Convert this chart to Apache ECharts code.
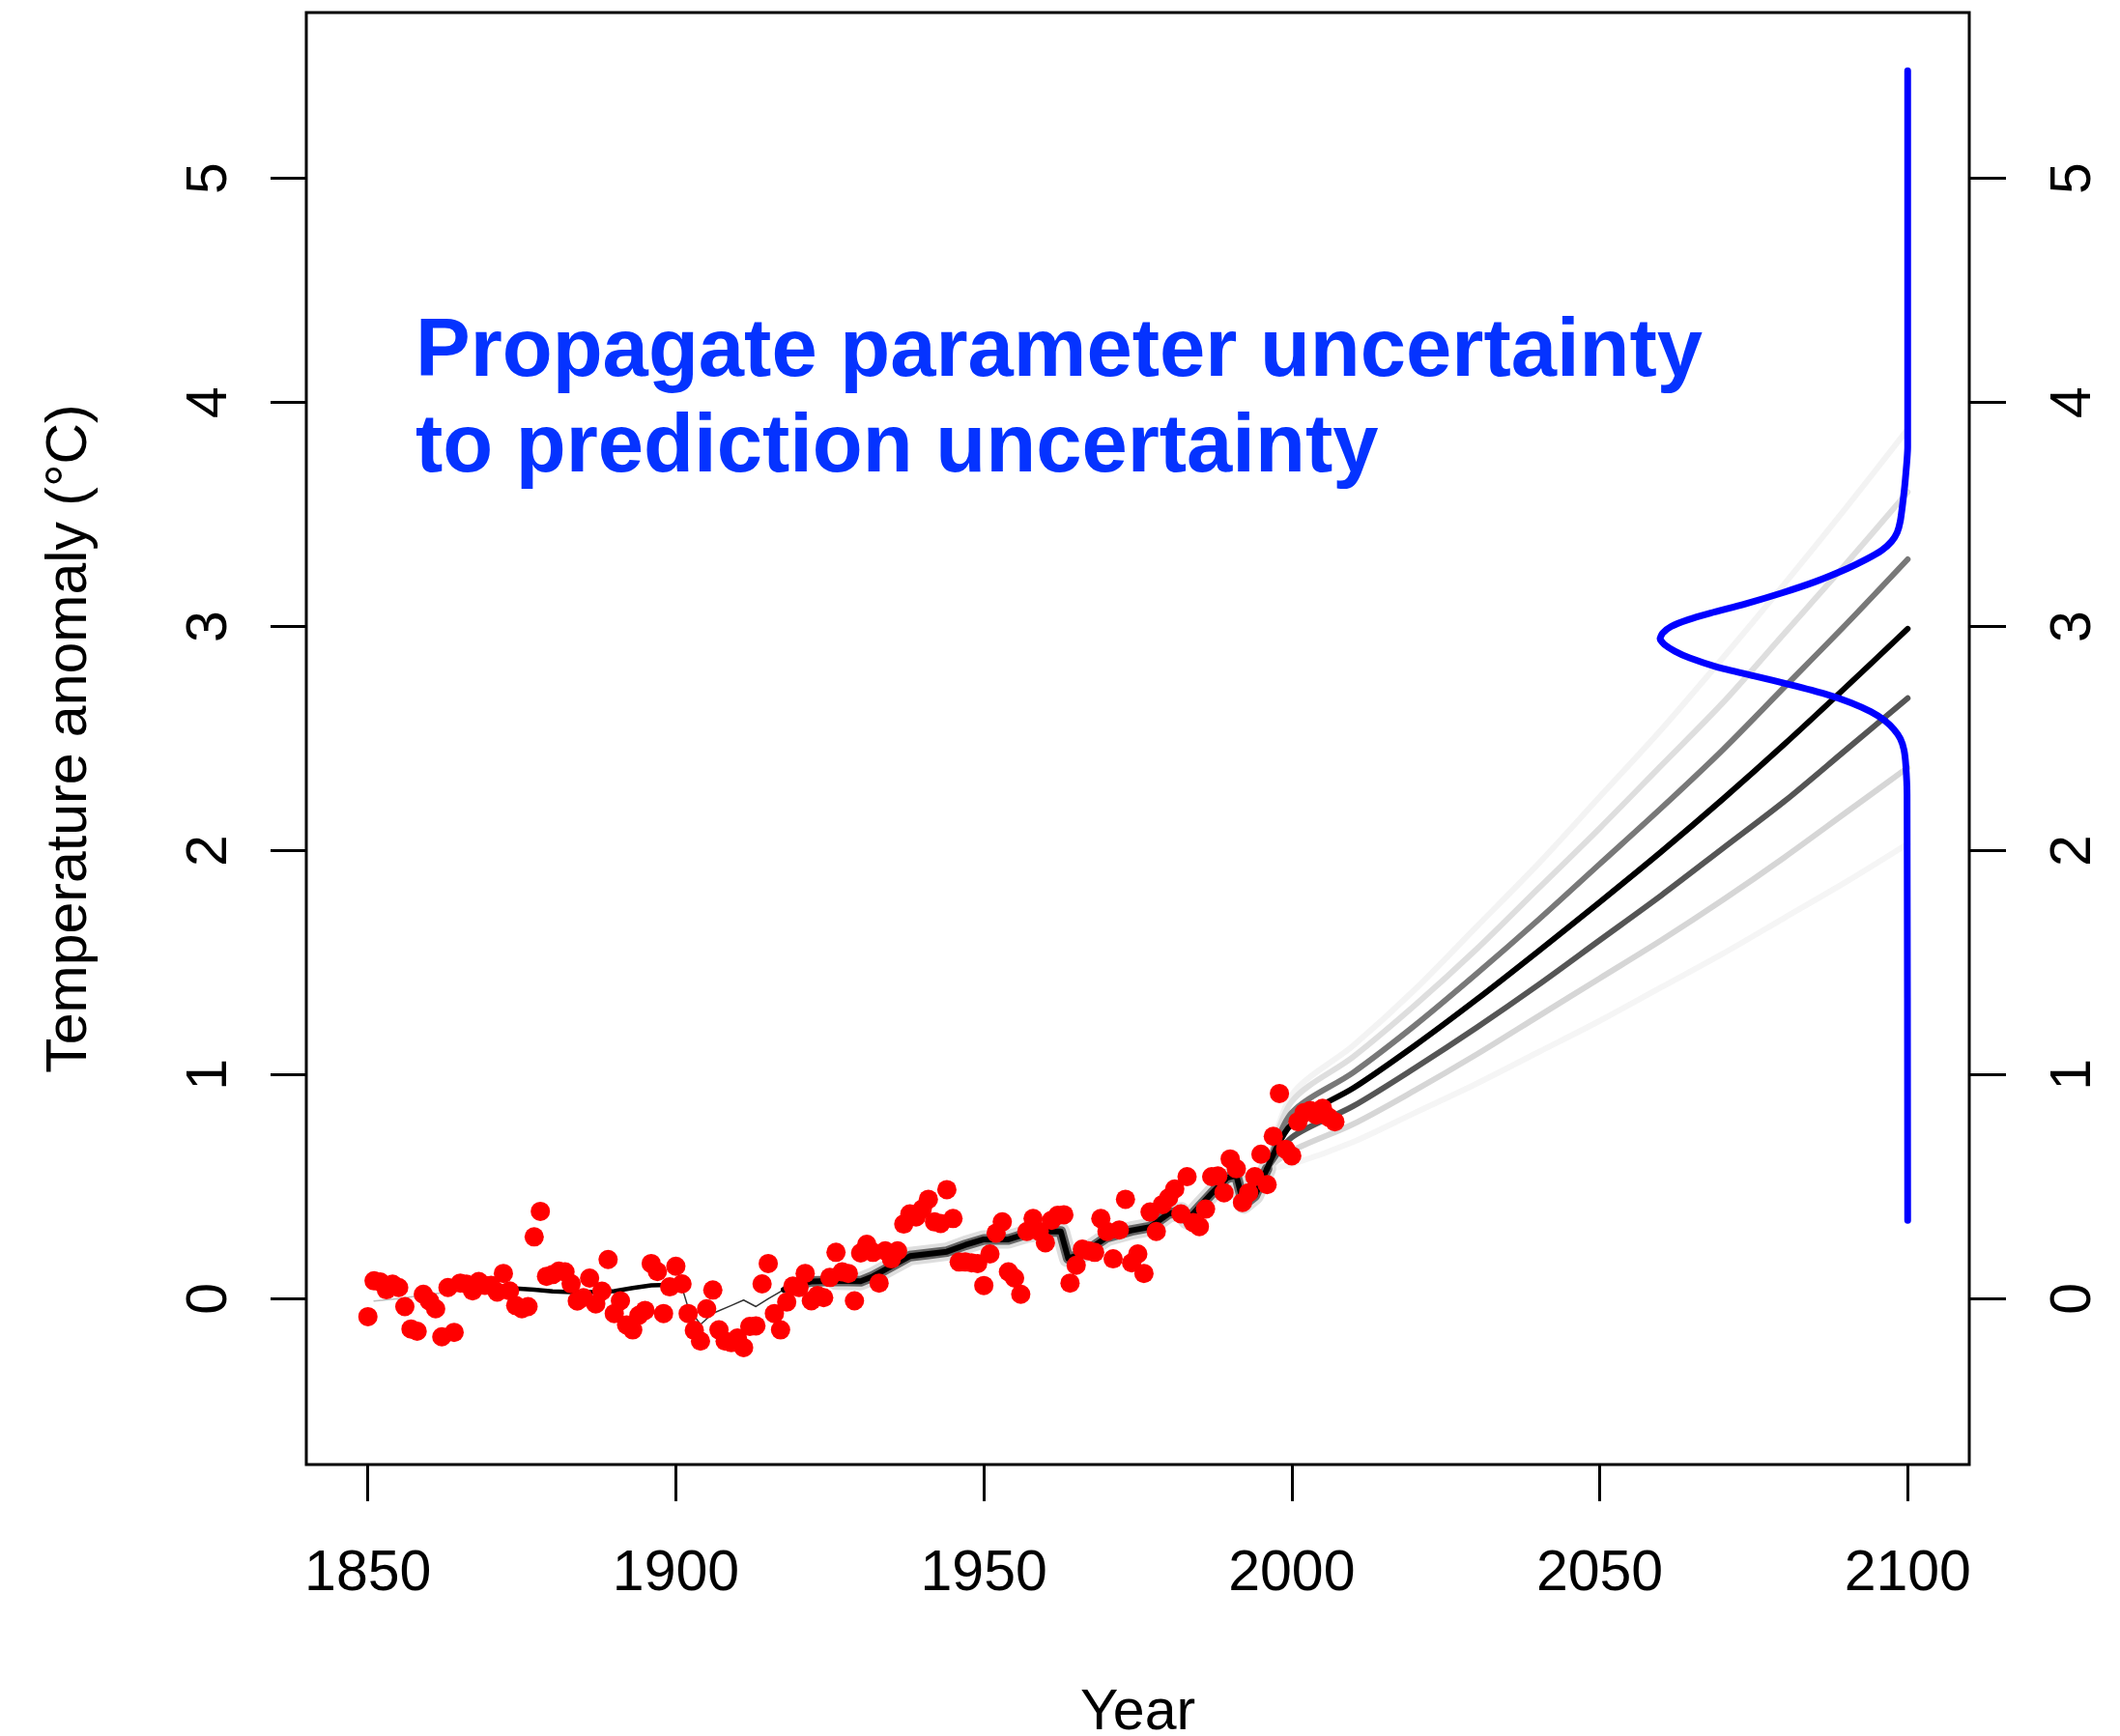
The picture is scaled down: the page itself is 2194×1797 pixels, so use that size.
<!DOCTYPE html>
<html>
<head>
<meta charset="utf-8">
<script src="https://cdn.jsdelivr.net/npm/echarts@6/dist/echarts.min.js"></script>
<style>
  html, body { margin: 0; padding: 0; background: #ffffff; }
  #chart { width: 2194px; height: 1797px; }
</style>
</head>
<body>
<div id="chart"></div>
<script>
// Observed annual temperature anomalies (°C), one value per year from 1850
const obsFirstYear = 1850;
const obsTemp = [
  -0.08, 0.08, 0.075, 0.04, 0.065, 0.05, -0.035, -0.135, -0.145, 0.02,
  -0.01, -0.045, -0.17, 0.05, -0.15, 0.07, 0.065, 0.035, 0.077, 0.06,
  0.06, 0.03, 0.113, 0.035, -0.03, -0.045, -0.035, 0.276, 0.39, 0.10,
  0.108, 0.123, 0.12, 0.067, -0.01, 0.005, 0.092, -0.023, 0.034, 0.175,
  -0.066, -0.009, -0.117, -0.139, -0.074, -0.052, 0.157, 0.121, -0.066, 0.053,
  0.145, 0.066, -0.066, -0.141, -0.189, -0.045, 0.039, -0.139, -0.189, -0.196,
  -0.175, -0.218, -0.124, -0.121, 0.066, 0.157, -0.066, -0.139, -0.015, 0.056,
  0.05, 0.113, -0.009, 0.015, 0.005, 0.095, 0.207, 0.12, 0.113, -0.009,
  0.204, 0.243, 0.207, 0.07, 0.214, 0.178, 0.214, 0.333, 0.379, 0.365,
  0.40, 0.444, 0.343, 0.336, 0.487, 0.358, 0.164, 0.164, 0.16, 0.157,
  0.059, 0.20, 0.293, 0.343, 0.12, 0.092, 0.02, 0.30, 0.358, 0.30,
  0.25, 0.35, 0.372, 0.375, 0.07, 0.149, 0.221, 0.214, 0.207, 0.358,
  0.30, 0.178, 0.307, 0.444, 0.16, 0.20, 0.113, 0.387, 0.30, 0.42,
  0.45, 0.49, 0.379, 0.545, 0.34, 0.322, 0.40, 0.545, 0.548, 0.473,
  0.624, 0.58, 0.43, 0.473, 0.545, 0.645, 0.509, 0.725, 0.916, 0.667,
  0.638, 0.79, 0.83, 0.84, 0.82, 0.85, 0.81, 0.79
];

// Best-fit model run over the historical period
const histYears = [
  1851, 1855, 1860, 1865, 1870, 1874, 1877, 1880, 1883, 1886, 1890, 1893, 1896, 1899,
  1901, 1902, 1904, 1906, 1909, 1911, 1913, 1915, 1917.5,
  1920, 1922, 1926, 1930, 1932, 1935, 1938, 1941, 1944, 1947, 1950, 1954, 1957, 1960,
  1962.5, 1963.7, 1966, 1970, 1974, 1977, 1980, 1982, 1983, 1985, 1987, 1989.5, 1991,
  1992.2, 1994, 1996
];
const histTemp = [
  -0.01, 0.0, 0.02, 0.035, 0.04, 0.046, 0.04, 0.033, 0.03, 0.03, 0.034, 0.048, 0.06, 0.062,
  0.05, -0.04, -0.115, -0.065, -0.03, -0.006, -0.035, 0.0, 0.04,
  0.065, 0.077, 0.08, 0.078, 0.10, 0.145, 0.19, 0.20, 0.21, 0.24, 0.265, 0.265, 0.29, 0.30,
  0.30, 0.18, 0.20, 0.275, 0.305, 0.32, 0.38, 0.39, 0.35, 0.41, 0.47, 0.54, 0.55,
  0.42, 0.46, 0.58
];

// Projections to 2100 for a spread of parameter values
const projYears = [1996, 2000, 2010, 2020, 2030, 2040, 2050, 2060, 2070, 2080, 2090, 2100];
const projHigh3 = [0.58, 0.91, 1.13, 1.38, 1.66, 1.94, 2.24, 2.54, 2.86, 3.19, 3.53, 3.88];
const projHigh2 = [0.58, 0.88, 1.08, 1.31, 1.56, 1.83, 2.10, 2.38, 2.66, 2.97, 3.28, 3.60];
const projHigh1 = [0.58, 0.83, 1.01, 1.22, 1.45, 1.69, 1.94, 2.19, 2.45, 2.73, 3.01, 3.30];
const projBest  = [0.58, 0.78, 0.94, 1.13, 1.335, 1.55, 1.77, 1.995, 2.23, 2.475, 2.73, 2.99];
const projLow1  = [0.58, 0.72, 0.86, 1.03, 1.21, 1.40, 1.60, 1.80, 2.01, 2.22, 2.45, 2.68];
const projLow2  = [0.58, 0.66, 0.78, 0.93, 1.09, 1.26, 1.43, 1.60, 1.78, 1.97, 2.17, 2.37];
const projLow3  = [0.58, 0.60, 0.70, 0.83, 0.96, 1.10, 1.24, 1.39, 1.54, 1.70, 1.86, 2.03];

// Distribution of 2100 temperature, drawn sideways against the 2100 line
const pdfTemp = [
  5.48, 3.80, 3.65, 3.55, 3.47, 3.42, 3.38, 3.34, 3.30, 3.26, 3.20, 3.15, 3.10, 3.06,
  3.03, 3.00, 2.97, 2.945, 2.92, 2.89, 2.86, 2.82, 2.78, 2.74, 2.70, 2.66, 2.62, 2.58,
  2.54, 2.50, 2.45, 2.38, 2.25, 0.35
];
const pdfYear = [
  2100, 2100, 2099.6, 2099.2, 2098.8, 2098.3, 2097.4, 2095.8, 2093.3, 2090.3, 2085.0, 2079.6, 2073.5, 2068.0,
  2064.3, 2061.6, 2060.2, 2059.8, 2060.5, 2062.2, 2064.6, 2069.0, 2075.0, 2081.0, 2086.5, 2090.8, 2094.0, 2096.3,
  2097.8, 2098.8, 2099.4, 2099.7, 2099.9, 2100
];

const xTicks = [1850, 1900, 1950, 2000, 2050, 2100];
const yTicks = [0, 1, 2, 3, 4, 5];

const FONT = '"Liberation Sans", Arial, Helvetica, sans-serif';

const obsPoints = obsTemp.map((t, i) => [obsFirstYear + i, t]);
const histPoints = histYears.map((y, i) => [y, histTemp[i]]);
const pairUp = (vals) => projYears.map((y, i) => [y, vals[i]]);
const pdfPoints = pdfTemp.map((t, i) => [pdfYear[i], t]);
const histRange = (a, b) => histPoints.filter(p => p[0] >= a && p[0] <= b);

function lineSeries(data, color, width, z, smooth) {
  return {
    type: 'line', data: data, showSymbol: false, symbol: 'none', z: z || 2,
    smooth: smooth || false,
    lineStyle: { color: color, width: width, cap: 'round', join: 'round' },
    emphasis: { disabled: true }, silent: true
  };
}

const series = [
  // projections, faint ones underneath
  lineSeries(pairUp(projHigh3), '#f3f3f3', 6, 2, 0.3),
  lineSeries(pairUp(projLow3), '#f5f5f5', 6, 2, 0.3),
  lineSeries(pairUp(projHigh2), '#dedede', 6, 2, 0.3),
  lineSeries(pairUp(projLow2), '#d6d6d6', 6, 2, 0.3),
  // historical model run with its spread
  lineSeries(histRange(1925, 1996), '#dedede', 19),
  lineSeries(histRange(1920, 1996), '#666666', 11),
  lineSeries(pairUp(projHigh1), '#787878', 6, 2, 0.3),
  lineSeries(pairUp(projLow1), '#555555', 6, 2, 0.3),
  lineSeries(pairUp(projBest), '#000000', 6, 2, 0.3),
  lineSeries(histRange(1851, 1866), '#bdbdbd', 1.5),
  lineSeries(histRange(1865, 1874), '#333333', 2),
  lineSeries(histRange(1874, 1901), '#000000', 4.5),
  lineSeries(histRange(1901, 1917.5), '#333333', 1.5),
  lineSeries(histRange(1917.5, 1996), '#000000', 6),
  {
    type: 'scatter', data: obsPoints, symbol: 'circle', symbolSize: 20, z: 5,
    itemStyle: { color: '#ff0000', opacity: 1, borderWidth: 0 },
    emphasis: { disabled: true }, silent: true
  },
  lineSeries(pdfPoints, '#0000ff', 7, 6, 0.2)
];

const yearLabel = (v) => String(Math.round(v));

const chart = echarts.init(document.getElementById('chart'), null, { renderer: 'canvas' });
chart.setOption({
  animation: false,
  backgroundColor: '#ffffff',
  grid: {
    left: 317, top: 13, right: 156, bottom: 281,
    containLabel: false, outerBoundsMode: 'none',
    show: true, borderColor: '#000000', borderWidth: 3, backgroundColor: 'transparent'
  },
  xAxis: {
    type: 'value', min: 1840, max: 2110,
    name: 'Year', nameLocation: 'middle', nameGap: 228,
    nameTextStyle: { fontSize: 59, color: '#000', fontFamily: FONT },
    axisLine: { show: false, onZero: false },
    axisTick: { show: true, inside: false, length: 38, customValues: xTicks,
      lineStyle: { color: '#000', width: 3 } },
    axisLabel: { show: true, customValues: xTicks, margin: 84, fontSize: 59,
      color: '#000', fontFamily: FONT, formatter: yearLabel },
    splitLine: { show: false }
  },
  yAxis: [
    {
      type: 'value', min: -0.74, max: 5.74, position: 'left',
      name: 'Temperature anomaly (°C)', nameLocation: 'middle', nameGap: 215, nameRotate: 90,
      nameTextStyle: { fontSize: 59, color: '#000', fontFamily: FONT },
      axisLine: { show: false, onZero: false },
      axisTick: { show: true, inside: false, length: 37, customValues: yTicks,
        lineStyle: { color: '#000', width: 3 } },
      axisLabel: { show: true, customValues: yTicks, rotate: 90, margin: 70, fontSize: 59,
        color: '#000', fontFamily: FONT },
      splitLine: { show: false }
    },
    {
      type: 'value', min: -0.74, max: 5.74, position: 'right',
      axisLine: { show: false, onZero: false },
      axisTick: { show: true, inside: false, length: 38, customValues: yTicks,
        lineStyle: { color: '#000', width: 3 } },
      axisLabel: { show: true, customValues: yTicks, rotate: 90, margin: 79, fontSize: 59,
        color: '#000', fontFamily: FONT },
      splitLine: { show: false }
    }
  ],
  graphic: [
    {
      type: 'text', left: 430, top: 316, z: 10, silent: true,
      style: {
        text: 'Propagate parameter uncertainty\nto prediction uncertainty',
        fill: '#0533ff',
        font: 'bold 85px ' + FONT,
        lineHeight: 99
      }
    }
  ],
  series: series
});
</script>
</body>
</html>
